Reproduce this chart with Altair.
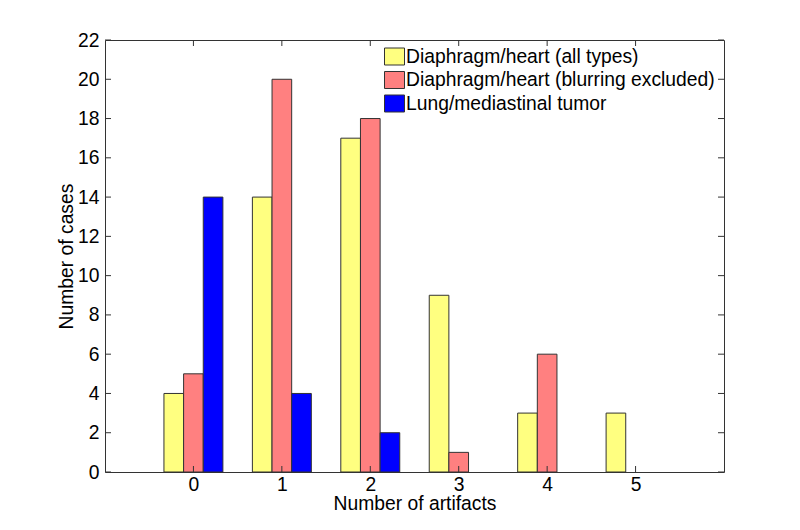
import altair as alt
import pandas as pd

categories = [0, 1, 2, 3, 4, 5]
series_names = [
    "Diaphragm/heart (all types)",
    "Diaphragm/heart (blurring excluded)",
    "Lung/mediastinal tumor",
]
all_types = [4, 14, 17, 9, 3, 3]
blurring_excluded = [5, 20, 18, 1, 6, 0]
lung_tumor = [14, 4, 2, 0, 0, 0]
colors = ["#FFFF80", "#FF8080", "#0000FF"]
x_ticks = [0, 1, 2, 3, 4, 5]
y_ticks = list(range(0, 23, 2))

rows = []
for idx, (name, vals) in enumerate(zip(series_names, [all_types, blurring_excluded, lung_tumor])):
    for c, v in zip(categories, vals):
        rows.append({"cat": c, "series": name, "idx": idx, "value": v})
df = pd.DataFrame(rows)

W, H = 619, 432
FONT = "Liberation Sans"
FS = 19.3
TL = 6  # inward tick length

xscale = alt.Scale(domain=[-1, 6], nice=False, zero=False, padding=0)
yscale = alt.Scale(domain=[0, 22], nice=False, padding=0)
xaxis = alt.Axis(values=x_ticks, title="Number of artifacts", labelPadding=3,
                 titlePadding=0, format="d")
yaxis = alt.Axis(values=y_ticks, title="Number of cases", labelPadding=6,
                 titlePadding=1, format="d")

bars = alt.Chart(df).transform_filter("datum.value > 0").transform_calculate(
    x0="datum.cat - 1/3 + datum.idx * 2/9",
    x1="datum.cat - 1/3 + (datum.idx + 1) * 2/9",
).mark_bar(stroke="#333333", strokeWidth=1).encode(
    x=alt.X("x0:Q", scale=xscale, axis=xaxis),
    x2="x1:Q",
    y=alt.Y("value:Q", scale=yscale, axis=yaxis),
    y2=alt.datum(0),
    color=alt.Color(
        "series:N",
        scale=alt.Scale(domain=series_names, range=colors),
        legend=alt.Legend(
            title=None, orient="none", legendX=279, legendY=6,
            direction="vertical",
            symbolType="M-1,-0.85H1V0.85H-1Z", symbolSize=400,
            symbolStrokeColor="#333333", symbolStrokeWidth=1,
            labelFont=FONT, labelFontSize=FS, labelColor="black",
            labelOffset=1, rowPadding=2.5, padding=0, labelLimit=400,
        ),
    ),
)

xt = pd.DataFrame({"t": x_ticks})
yt = pd.DataFrame({"t": y_ticks})

tick_bottom = alt.Chart(xt).mark_rule(color="#333333").encode(
    x=alt.X("t:Q", scale=xscale, axis=xaxis), y=alt.value(H - TL), y2=alt.value(H))
tick_top = alt.Chart(xt).mark_rule(color="#333333").encode(
    x=alt.X("t:Q", scale=xscale, axis=xaxis), y=alt.value(0), y2=alt.value(TL))
tick_left = alt.Chart(yt).mark_rule(color="#333333").encode(
    y=alt.Y("t:Q", scale=yscale, axis=yaxis), x=alt.value(0), x2=alt.value(TL))
tick_right = alt.Chart(yt).mark_rule(color="#333333").encode(
    y=alt.Y("t:Q", scale=yscale, axis=yaxis), x=alt.value(W - TL), x2=alt.value(W))

chart = alt.layer(bars, tick_bottom, tick_top, tick_left, tick_right).properties(
    width=W, height=H,
    autosize=alt.AutoSizeParams(type="none"),
    padding={"left": 97, "top": 32, "right": 68, "bottom": 50},
    background="white",
).configure_view(
    stroke="#333333", strokeWidth=1
).configure_axis(
    grid=False, domain=False, ticks=False,
    labelFont=FONT, labelFontSize=FS, labelColor="black",
    titleFont=FONT, titleFontSize=FS, titleFontWeight="normal", titleColor="black",
)

chart.save("out.html", embed_options={"renderer": "svg", "actions": False})
